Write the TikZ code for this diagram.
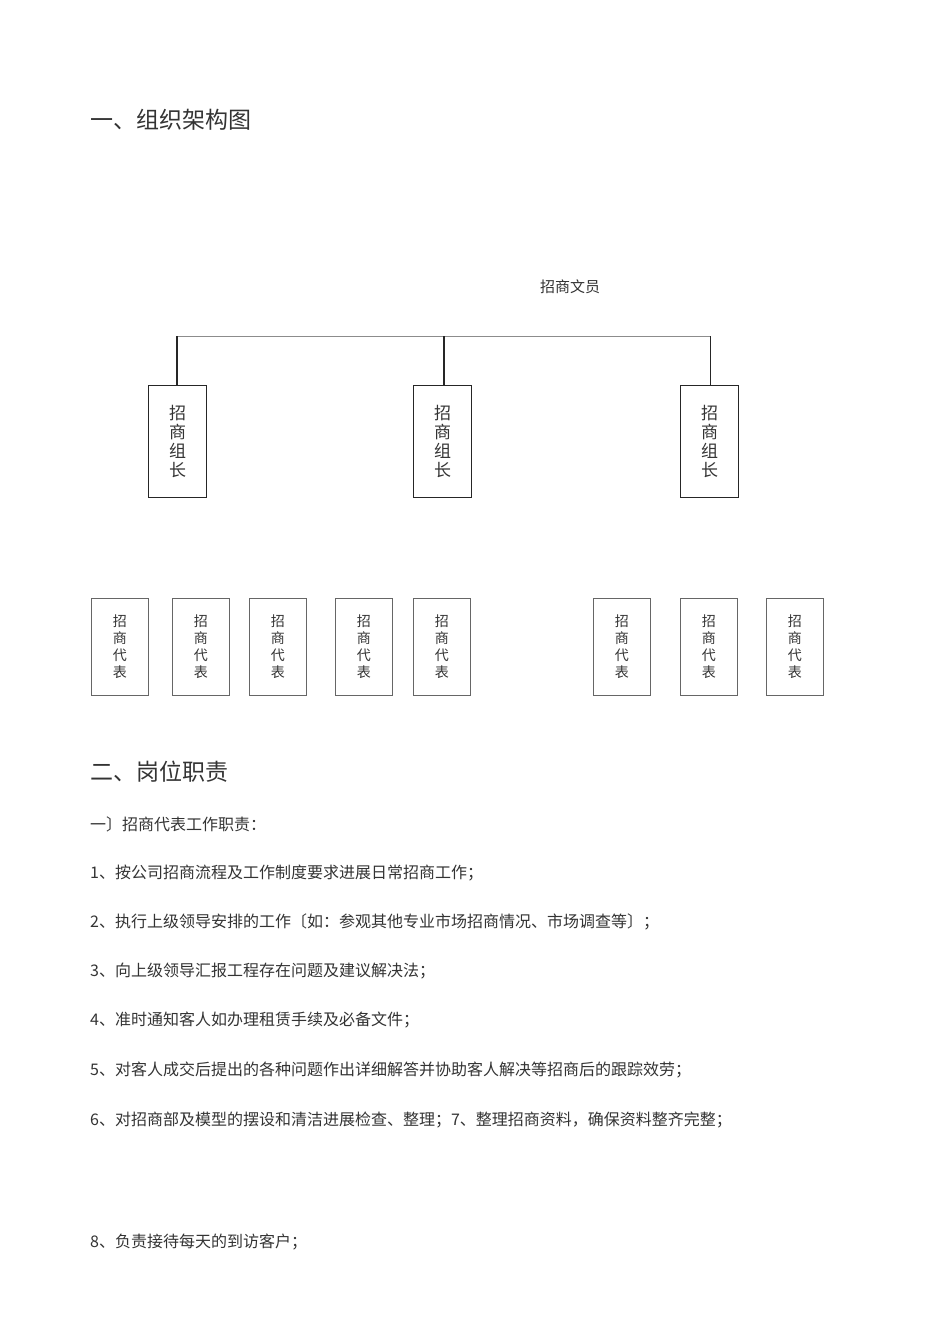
\documentclass[tikz,border=0pt]{standalone}
\usepackage{fontspec}
\setmainfont{Noto Sans CJK SC}[Scale=1]
\newfontfamily\cjk{Noto Sans CJK SC}[Color=333333]
\begin{document}
\begin{tikzpicture}[x=1pt,y=-1pt,
  lead/.style={draw=black!85,line width=1.3pt,minimum width=58pt,minimum height=112pt,inner sep=0pt,font=\cjk\fontsize{17}{19}\selectfont,text width=17pt,align=center,anchor=north west},
  rep/.style={draw=black!60,line width=0.8pt,minimum width=57pt,minimum height=97pt,inner sep=0pt,font=\cjk\fontsize{14}{17}\selectfont,text width=14pt,align=center,anchor=north west},
  txt/.style={anchor=west,inner sep=0pt,font=\cjk\fontsize{16}{18}\selectfont},
  head/.style={anchor=west,inner sep=0pt,font=\cjk\fontsize{23}{26}\selectfont}]
\useasboundingbox (0,0) rectangle (950,1344);
\node[head] (h1) at (90,120) {一、组织架构图};
\node[anchor=center,inner sep=0pt,font=\cjk\fontsize{15}{17}\selectfont] (clerk) at (570,287) {招商文员};
\node[lead] (l1) at (148,385) {招\\商\\组\\长};
\node[lead] (l2) at (413,385) {招\\商\\组\\长};
\node[lead] (l3) at (680,385) {招\\商\\组\\长};
\coordinate (j1) at (177,336);
\coordinate (j2) at (444,336);
\coordinate (j3) at (710,336);
\draw[black!45,line width=0.8pt] (j1) -- (j3);
\draw[black!85,line width=1.3pt] (j1) -- (l1.north -| j1);
\draw[black!85,line width=1.5pt] (j2) -- (l2.north -| j2);
\draw[black!85,line width=1pt] (j3) -- (l3.north -| j3);
\foreach \x/\n in {91/r1,172/r2,249/r3,335/r4,413/r5,593/r6,680/r7,766/r8}
  \node[rep] (\n) at (\x,598) {招\\商\\代\\表};
\node[head] (h2) at (90,772) {二、岗位职责};
\node[txt] (t0) at (90,824) {一〕招商代表工作职责：};
\node[txt] (t1) at (90,873) {1、按公司招商流程及工作制度要求进展日常招商工作；};
\node[txt] (t2) at (90,922) {2、执行上级领导安排的工作〔如：参观其他专业市场招商情况、市场调查等〕；};
\node[txt] (t3) at (90,971) {3、向上级领导汇报工程存在问题及建议解决法；};
\node[txt] (t4) at (90,1020) {4、准时通知客人如办理租赁手续及必备文件；};
\node[txt] (t5) at (90,1070) {5、对客人成交后提出的各种问题作出详细解答并协助客人解决等招商后的跟踪效劳；};
\node[txt] (t6) at (90,1120) {6、对招商部及模型的摆设和清洁进展检查、整理；7、整理招商资料，确保资料整齐完整；};
\node[txt] (t8) at (90,1242) {8、负责接待每天的到访客户；};
\end{tikzpicture}
\end{document}
